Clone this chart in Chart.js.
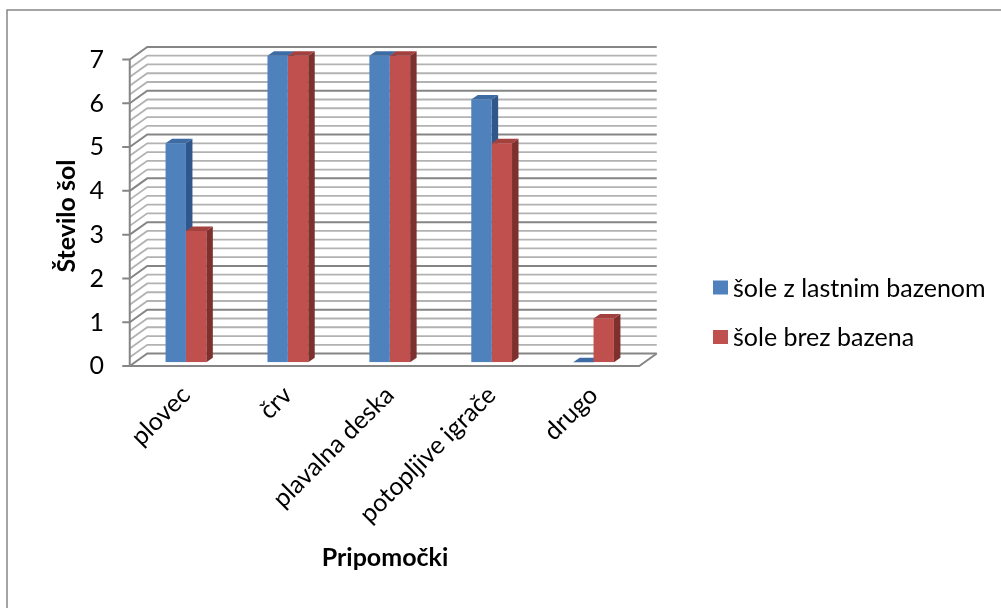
<!DOCTYPE html>
<html>
<head>
<meta charset="utf-8">
<script src="https://cdn.jsdelivr.net/npm/chart.js@4.4.1/dist/chart.umd.min.js"></script>
<style>
  html, body { margin: 0; padding: 0; background: #fff; }
  canvas { display: block; }
</style>
</head>
<body>
<canvas id="chart" width="1001" height="608"></canvas>
<script>
// ---- data ----
const categories = ['plovec', 'črv', 'plavalna deska', 'potopljive igrače', 'drugo'];
const seriesNames = ['šole z lastnim bazenom', 'šole brez bazena'];
const withPool = [5, 7, 7, 6, 0];
const withoutPool = [3, 7, 7, 5, 1];
const yTickValues = [0, 1, 2, 3, 4, 5, 6, 7];
const yAxisTitle = 'Število šol';
const xAxisTitle = 'Pripomočki';

// ---- style ----
const FONT = 'Lato, "Open Sans", sans-serif';
const FONT_SIZE = 25;
const frontColors = ['#4F81BD', '#C0504D'];
const topColors = ['#3D6BA4', '#A3413E'];
const sideColors = ['#30578A', '#7E302E'];
const MINOR_STEP = 0.2;
const DEPTH = { x: 17.5, y: -12.5 };     // front edge -> back wall
const BAR_PLANE = 0.3;                   // bars stand this far into the box
const BAR_DEPTH = { x: 6.5, y: -4.5 };   // thickness of each bar

const yMin = yTickValues[0];
const yMax = yTickValues[yTickValues.length - 1];

// Box walls, gridlines, bar tops/sides, legend and axis titles
const box3d = {
  id: 'box3d',
  beforeDraw(chart) {
    const ctx = chart.ctx;
    ctx.save();
    ctx.fillStyle = '#fff';
    ctx.fillRect(0, 0, chart.width, chart.height);
    ctx.strokeStyle = '#878787';
    ctx.lineWidth = 1.5;
    ctx.strokeRect(7, 10, chart.width + 20, chart.height + 20);
    ctx.restore();
  },
  beforeDatasetsDraw(chart) {
    const { ctx, chartArea: a, scales: { y } } = chart;
    const bx = DEPTH.x * (1 - BAR_PLANE), by = DEPTH.y * (1 - BAR_PLANE);
    const fx = -DEPTH.x * BAR_PLANE, fy = -DEPTH.y * BAR_PLANE;
    ctx.save();
    ctx.lineCap = 'butt';
    const n = Math.round((yMax - yMin) / MINOR_STEP);
    // minor lines first, major lines on top
    for (const pass of [false, true]) {
      for (let i = 0; i <= n; i++) {
        const v = yMin + i * MINOR_STEP;
        const major = Math.abs(v - Math.round(v)) < 1e-6;
        if (major !== pass) continue;
        const py = y.getPixelForValue(v);
        ctx.strokeStyle = major ? '#858585' : '#B2B2B2';
        ctx.lineWidth = major ? 2 : 1.8;
        ctx.beginPath();
        ctx.moveTo(a.left + fx, py + fy);
        ctx.lineTo(a.left + bx, py + by);
        ctx.lineTo(a.right + bx, py + by);
        ctx.stroke();
      }
    }
    // floor front and right edges, value axis, tick marks
    const p0 = y.getPixelForValue(yMin), pTop = y.getPixelForValue(yMax);
    ctx.strokeStyle = '#858585';
    ctx.lineWidth = 2;
    ctx.beginPath();
    ctx.moveTo(a.left + fx - 7.5, p0 + fy);
    ctx.lineTo(a.right + fx, p0 + fy);
    ctx.lineTo(a.right + bx, p0 + by);
    ctx.moveTo(a.left + fx, pTop + fy);
    ctx.lineTo(a.left + fx, p0 + fy);
    for (const v of yTickValues) {
      const py = y.getPixelForValue(v) + fy;
      ctx.moveTo(a.left + fx - 7.5, py);
      ctx.lineTo(a.left + fx, py);
    }
    ctx.stroke();

    // bar tops and sides (front faces are drawn by the bar controller)
    chart.data.datasets.forEach((ds, di) => {
      const meta = chart.getDatasetMeta(di);
      meta.data.forEach(el => {
        const w = el.width, l = el.x - w / 2, r = el.x + w / 2, t = el.y, b = el.base;
        const dx = BAR_DEPTH.x, dy = BAR_DEPTH.y;
        ctx.fillStyle = sideColors[di];
        ctx.beginPath();
        ctx.moveTo(r, t); ctx.lineTo(r + dx, t + dy); ctx.lineTo(r + dx, b + dy); ctx.lineTo(r, b);
        ctx.closePath(); ctx.fill();
        ctx.fillStyle = topColors[di];
        ctx.beginPath();
        ctx.moveTo(l, t); ctx.lineTo(r, t); ctx.lineTo(r + dx, t + dy); ctx.lineTo(l + dx, t + dy);
        ctx.closePath(); ctx.fill();
      });
    });
    ctx.restore();
  },
  afterDraw(chart) {
    const ctx = chart.ctx;
    ctx.save();
    // legend
    ctx.font = FONT_SIZE + 'px ' + FONT;
    ctx.textAlign = 'left';
    ctx.textBaseline = 'middle';
    chart.data.datasets.forEach((ds, i) => {
      const cy = 287.5 + i * 49.5;
      ctx.fillStyle = frontColors[i];
      ctx.fillRect(713, cy - 7, 15, 14);
      ctx.fillStyle = '#000';
      ctx.fillText(ds.label, 733, cy + 1);
    });
    // axis titles
    ctx.font = 'bold ' + FONT_SIZE + 'px ' + FONT;
    ctx.textAlign = 'center';
    ctx.fillText(xAxisTitle, 385, 558);
    ctx.translate(67, 216);
    ctx.rotate(-Math.PI / 2);
    ctx.fillText(yAxisTitle, 0, 0);
    ctx.restore();
  }
};

const CHART_LEFT = 135, CHART_RIGHT = 644.5, CHART_TOP = 55.7, CHART_BOTTOM = 362.3;

new Chart(document.getElementById('chart'), {
  type: 'bar',
  data: {
    labels: categories,
    datasets: [
      { label: seriesNames[0], data: withPool, backgroundColor: frontColors[0], borderWidth: 0 },
      { label: seriesNames[1], data: withoutPool, backgroundColor: frontColors[1], borderWidth: 0 }
    ]
  },
  options: {
    responsive: false,
    animation: false,
    devicePixelRatio: 1,
    categoryPercentage: 0.4,
    barPercentage: 1,
    layout: { padding: { left: 0, top: CHART_TOP, right: 1001 - CHART_RIGHT, bottom: 0 } },
    plugins: { legend: { display: false }, tooltip: { enabled: false } },
    scales: {
      x: {
        grid: { display: false, drawTicks: false },
        border: { display: false },
        ticks: { minRotation: 45, maxRotation: 45, padding: 18, color: '#000', font: { family: FONT, size: FONT_SIZE } },
        afterFit(scale) { scale.height = 608 - CHART_BOTTOM; }
      },
      y: {
        min: yMin, max: yMax,
        grid: { display: false, drawTicks: false },
        border: { display: false },
        ticks: {
          stepSize: 1, padding: 31, labelOffset: 4, color: '#000',
          font: { family: FONT, size: FONT_SIZE },
          callback: v => yTickValues.includes(v) ? String(v) : ''
        },
        afterFit(scale) { scale.width = CHART_LEFT; }
      }
    }
  },
  plugins: [box3d]
});
</script>
</body>
</html>
